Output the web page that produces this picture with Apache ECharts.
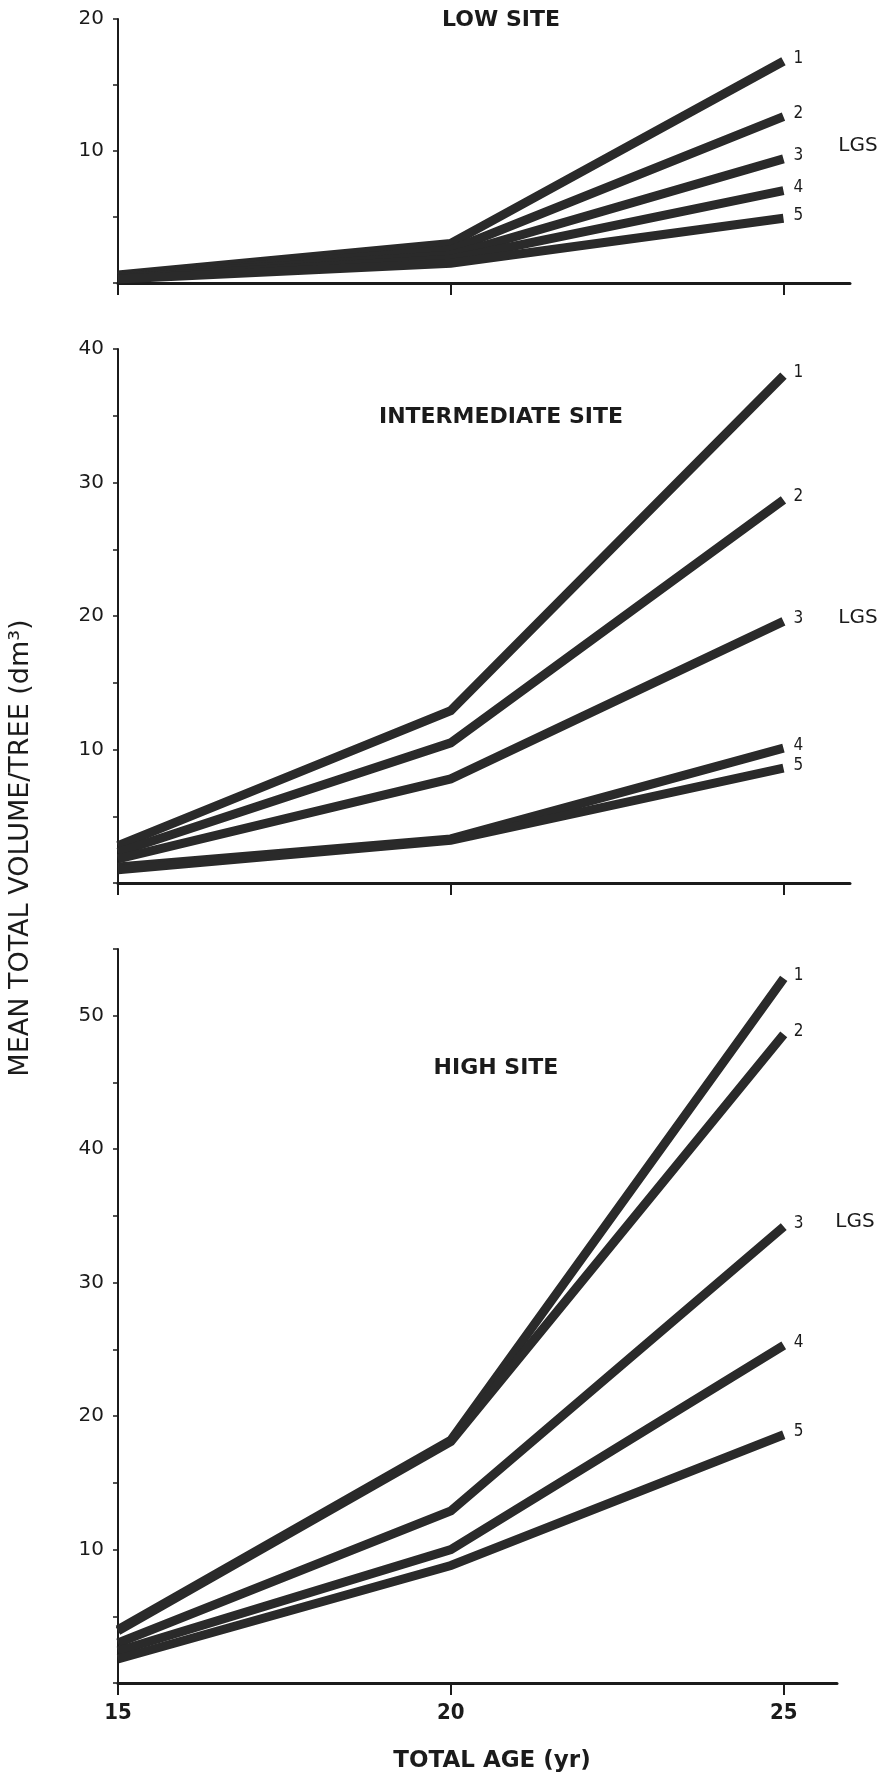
<!DOCTYPE html>
<html>
<head>
<meta charset="utf-8">
<script src="https://cdn.jsdelivr.net/npm/echarts@6/dist/echarts.min.js"></script>
<style>
  html, body { margin: 0; padding: 0; background: #fff; }
  #chart { width: 886px; height: 1775px; }
</style>
</head>
<body>
<div id="chart"></div>
<script>
// total age (yr)
var ages = [15, 20, 25];
var lgsNames = ["1", "2", "3", "4", "5"];

// mean total volume/tree (dm3), one row per LGS 1..5
var lowSite = [
    [0.6, 3.0, 16.8],
    [0.5, 2.5, 12.6],
    [0.5, 2.1, 9.4],
    [0.4, 1.8, 7.0],
    [0.3, 1.5, 4.9]
];
var intermediateSite = [
    [2.8, 12.9, 38.0],
    [2.3, 10.5, 28.7],
    [1.8, 7.8, 19.6],
    [1.2, 3.3, 10.1],
    [1.0, 3.2, 8.6]
];
var highSite = [
    [4.0, 18.2, 52.8],
    [3.9, 18.1, 48.6],
    [3.0, 12.9, 34.2],
    [2.4, 10.0, 25.3],
    [1.8, 8.8, 18.6]
];

var xTicks = [15, 20, 25];
var lowLabels = [10, 20];
var intermediateLabels = [10, 20, 30, 40];
var highLabels = [10, 20, 30, 40, 50];

var panels = [
    { data: lowSite, labels: lowLabels, max: 20, xMax: 26, top: 19, bottom: 1492, right: 36, xLabels: false },
    { data: intermediateSite, labels: intermediateLabels, max: 40, xMax: 26, top: 349, bottom: 892, right: 36, xLabels: false },
    { data: highSite, labels: highLabels, max: 55, xMax: 25.8, top: 949, bottom: 92, right: 49, xLabels: true }
];

var ink = "#1b1b1b";
var grids = [], xAxes = [], yAxes = [], series = [];

panels.forEach(function (p, i) {
    grids.push({ left: 118, right: p.right, top: p.top, bottom: p.bottom });
    xAxes.push({
        type: "value", gridIndex: i, min: 15, max: p.xMax,
        axisLine: { show: true, lineStyle: { color: ink, width: 3 } },
        axisTick: { show: true, customValues: xTicks, length: 12, lineStyle: { color: ink, width: 2 } },
        axisLabel: {
            show: p.xLabels, customValues: xTicks, margin: 19,
            fontFamily: "DejaVu Sans Condensed", fontWeight: "bold", fontSize: 22, color: ink
        },
        splitLine: { show: false }
    });
    yAxes.push({
        type: "value", gridIndex: i, min: 0, max: p.max, interval: 5,
        axisLine: { show: true, lineStyle: { color: ink, width: 2 } },
        axisTick: { show: true, length: 5, lineStyle: { color: ink, width: 1.5 } },
        axisLabel: {
            customValues: p.labels, margin: 14,
            fontFamily: "DejaVu Sans", fontSize: 20, color: ink
        },
        splitLine: { show: false }
    });
    p.data.forEach(function (vals, k) {
        series.push({
            type: "line", xAxisIndex: i, yAxisIndex: i, name: lgsNames[k],
            data: ages.map(function (a, j) { return [a, vals[j]]; }),
            showSymbol: false, symbol: "none",
            lineStyle: { color: "#2a2a2a", width: 9, cap: "butt", join: "miter" },
            endLabel: {
                show: true, distance: 10, offset: [0, -3],
                formatter: lgsNames[k],
                fontFamily: "DejaVu Sans Condensed", fontSize: 17, color: ink
            },
            emphasis: { disabled: true },
            silent: true, z: 3
        });
    });
});

function txt(x, y, s, font, rot) {
    return {
        type: "text", x: x, y: y, rotation: rot || 0,
        style: { text: s, font: font, fill: ink, align: "center", verticalAlign: "middle" }
    };
}

var chart = echarts.init(document.getElementById("chart"));
chart.setOption({
    animation: false,
    grid: grids,
    xAxis: xAxes,
    yAxis: yAxes,
    series: series,
    graphic: [
        txt(501, 20, "LOW SITE", 'bold 22px "DejaVu Sans"'),
        txt(501, 417, "INTERMEDIATE SITE", 'bold 22px "DejaVu Sans"'),
        txt(496, 1068, "HIGH SITE", 'bold 22px "DejaVu Sans"'),
        txt(858, 146, "LGS", '20px "DejaVu Sans"'),
        txt(858, 618, "LGS", '20px "DejaVu Sans"'),
        txt(855, 1222, "LGS", '20px "DejaVu Sans"'),
        txt(492, 1761, "TOTAL AGE (yr)", 'bold 23px "DejaVu Sans"'),
        txt(21, 848, "MEAN TOTAL VOLUME/TREE (dm\u00B3)", '27px "DejaVu Sans"', Math.PI / 2)
    ]
});
</script>
</body>
</html>
